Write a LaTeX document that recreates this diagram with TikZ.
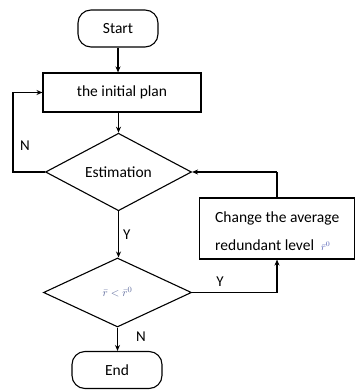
\documentclass[tikz,border=0pt]{standalone}
\usepackage{fontspec}
\setmainfont{Carlito}
\usetikzlibrary{shapes.geometric,arrows.meta}
\begin{document}
\begin{tikzpicture}[x=1pt,y=-1pt,
  base/.style={draw,line width=1.1pt,inner sep=0pt,font=\fontsize{15.5}{17}\selectfont},
  term/.style={base,rectangle,rounded corners=13pt},
  proc/.style={base,rectangle},
  dec/.style={base,diamond,minimum width=146pt,minimum height=68pt},
  conn/.style={line width=1.1pt,-{Stealth[length=6pt,width=5pt]}},
  plain/.style={line width=1.1pt},
  heavy/.style={line width=2.3pt},
  lbl/.style={font=\fontsize{15}{16}\selectfont,inner sep=0pt}]
\useasboundingbox (0,0) rectangle (356,390);
\node[term,minimum width=80pt,minimum height=37pt] (start) at (118,28.5) {Start};
\node[proc,minimum width=158pt,minimum height=39pt] (plan) at (122,92.5) {the initial plan};
\node[dec] (est) at (118.5,172) {Estimation};
\node[dec,minimum width=148pt,minimum height=69pt] (cmp) at (117.5,292.5) {\textcolor[rgb]{0.35,0.4,0.6}{\fontsize{11}{12}\selectfont$\bar r<\bar r^{0}$}};
\node[proc,minimum width=155pt,minimum height=61pt] (chg) at (277,228.5) {};
\node[anchor=west,align=left,inner sep=0pt,font=\fontsize{15.5}{28}\selectfont] (chgtxt) at (215,231)
  {Change the average\\redundant level\hspace{7pt}\textcolor[rgb]{0.3,0.35,0.7}{\fontsize{10}{10}\selectfont$\bar r^{0}$}};
\node[term,minimum width=90pt,minimum height=37pt] (end) at (117,370) {End};
\coordinate (ltop) at (13,92.5);
\coordinate (rtop) at (chg.north |- est.east);
\coordinate (rbot) at (chg.south |- cmp.east);
\draw[conn] (start.south) -- (start.south |- plan.north);
\draw[conn] (est.north |- plan.south) -- (est.north);
\draw[conn] (est.south) -- node[lbl,right=4pt,pos=0.5]{Y} (est.south |- cmp.north);
\draw[conn] (cmp.south) -- node[lbl,right=18pt,pos=0.4]{N} (cmp.south |- end.north);
\draw[heavy] (est.west) -| (ltop);
\draw[conn] (ltop) -- (plan.west);
\node[lbl] (nl) at (25,146) {N};
\draw[plain] (chg.north) -- (rtop);
\draw[heavy,-{Stealth[length=6pt,width=5pt]}] (rtop) -- (est.east);
\draw[plain] (cmp.east) -- node[lbl,above=5pt,pos=0.33]{Y} (rbot);
\draw[heavy,-{Stealth[length=6pt,width=5pt]}] (rbot) -- (chg.south);
\end{tikzpicture}
\end{document}
